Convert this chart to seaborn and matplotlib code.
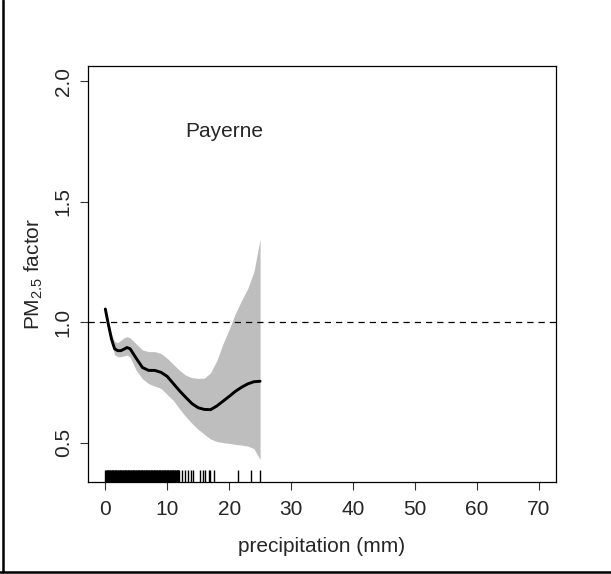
import numpy as np
import pandas as pd
import matplotlib
matplotlib.use("Agg")
import matplotlib.pyplot as plt
from matplotlib.lines import Line2D
import seaborn as sns

# Smoothed PM2.5 response to daily precipitation at Payerne
precip_mm = [0, 0.5, 1, 1.5, 2, 2.5, 3, 3.5, 4, 5, 6, 7, 8, 9, 10,
             11, 12, 13, 14, 15, 16, 17, 18, 19, 20, 21, 22, 23, 24, 25]
pm_factor = [1.055, 0.99, 0.93, 0.89, 0.882, 0.882, 0.888, 0.895, 0.89, 0.85,
             0.812, 0.80, 0.80, 0.792, 0.775, 0.745, 0.715, 0.688, 0.662, 0.645,
             0.638, 0.637, 0.652, 0.672, 0.692, 0.713, 0.73, 0.744, 0.753, 0.755]
ci_upper = [1.065, 1.0, 0.95, 0.92, 0.915, 0.925, 0.935, 0.94, 0.935, 0.91,
            0.885, 0.878, 0.878, 0.87, 0.85, 0.825, 0.80, 0.78, 0.77, 0.767,
            0.768, 0.79, 0.84, 0.91, 0.97, 1.036, 1.09, 1.14, 1.21, 1.345]
ci_lower = [1.045, 0.975, 0.91, 0.865, 0.857, 0.857, 0.86, 0.864, 0.855, 0.80,
            0.765, 0.745, 0.735, 0.725, 0.70, 0.675, 0.64, 0.608, 0.58, 0.555,
            0.535, 0.515, 0.505, 0.50, 0.497, 0.493, 0.49, 0.486, 0.475, 0.43]

# Observed daily precipitation amounts (rug), 0.1 mm resolution
rain_obs = [
    0.0, 0.1, 0.2, 0.3, 0.4, 0.5, 0.6, 0.7, 0.8, 0.9,
    1.0, 1.1, 1.2, 1.3, 1.4, 1.5, 1.6, 1.7, 1.8, 1.9,
    2.0, 2.1, 2.2, 2.3, 2.4, 2.5, 2.6, 2.7, 2.8, 2.9,
    3.0, 3.1, 3.2, 3.3, 3.4, 3.5, 3.6, 3.7, 3.8, 3.9,
    4.0, 4.1, 4.2, 4.3, 4.4, 4.5, 4.6, 4.7, 4.8, 4.9,
    5.0, 5.1, 5.2, 5.3, 5.4, 5.5, 5.6, 5.7, 5.8, 5.9,
    6.0, 6.1, 6.2, 6.3, 6.4, 6.5, 6.6, 6.7, 6.8, 6.9,
    7.0, 7.1, 7.2, 7.3, 7.4, 7.5, 7.6, 7.7, 7.8, 7.9,
    8.0, 8.1, 8.2, 8.3, 8.4, 8.5, 8.6, 8.7, 8.8, 8.9,
    9.0, 9.1, 9.2, 9.3, 9.4, 9.5, 9.6, 9.7, 9.8, 9.9,
    10.0, 10.1, 10.2, 10.3, 10.4, 10.5, 10.6, 10.7, 10.8, 10.9,
    11.0, 11.1, 11.2, 11.3, 11.4, 11.5, 11.6, 11.7, 11.8, 11.9,
    12.4, 12.9, 13.3, 13.9, 14.2, 15.3, 15.7, 16.1, 16.7, 16.9,
    17.5, 21.4, 23.5, 25.0,
]

x_ticks = [0, 10, 20, 30, 40, 50, 60, 70]
y_ticks = [0.5, 1.0, 1.5, 2.0]
station = "Payerne"

sns.set_theme(style="white")
plt.rcParams["font.family"] = ["Liberation Sans", "DejaVu Sans"]
plt.rcParams["mathtext.fontset"] = "custom"
plt.rcParams["mathtext.rm"] = "Liberation Sans"
plt.rcParams["mathtext.it"] = "Liberation Sans"

curve = pd.DataFrame({"precip": precip_mm, "factor": pm_factor})

fig = plt.figure(figsize=(6.11, 5.74), dpi=100)
ax = fig.add_axes([0.144, 0.160, 0.766, 0.725])

ax.fill_between(precip_mm, ci_lower, ci_upper, color="#bebebe", lw=0)
ax.axhline(1.0, color="black", lw=0.9, ls=(0, (5, 4)))
sns.lineplot(data=curve, x="precip", y="factor", color="black", lw=2.1, ax=ax)
sns.rugplot(x=rain_obs, height=0.029, color="black", lw=1.5, ax=ax)

ax.set_xlim(-2.8, 72.8)
ax.set_ylim(0.336, 2.064)
ax.set_xticks(x_ticks)
ax.set_yticks(y_ticks)
ax.set_xticklabels([str(v) for v in x_ticks])
ax.set_yticklabels([f"{v:.1f}" for v in y_ticks], rotation=90, va="center")
ax.tick_params(axis="both", direction="out", length=6, width=0.8,
               color="#333333", labelsize=15, left=True, bottom=True)
ax.tick_params(axis="x", pad=7)
ax.tick_params(axis="y", pad=5)

for sp in ax.spines.values():
    sp.set_visible(True)
    sp.set_color("black")
    sp.set_linewidth(0.9)

ax.set_xlabel("precipitation (mm)", fontsize=15, labelpad=13)
ax.set_ylabel(r"PM$_{2.5}$ factor", fontsize=15, labelpad=6)

ax.text(19.2, 1.79, station, fontsize=15, ha="center", va="center")

# Frame edges on the left and bottom of the figure
fig.add_artist(Line2D([3 / 611, 3 / 611], [2 / 574, 1.0], transform=fig.transFigure,
                      color="black", lw=1.8))
fig.add_artist(Line2D([0, 1], [2 / 574, 2 / 574], transform=fig.transFigure,
                      color="black", lw=1.8))

fig.savefig("out.png", dpi=100, facecolor="white")
